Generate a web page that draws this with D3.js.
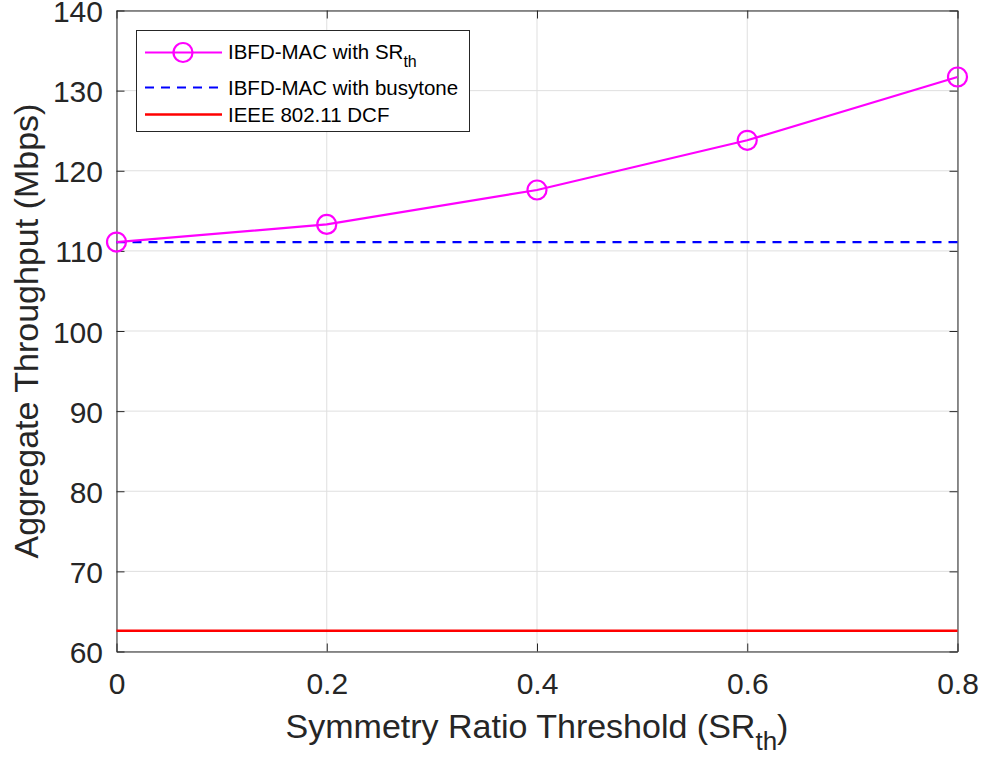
<!DOCTYPE html>
<html>
<head>
<meta charset="utf-8">
<script src="https://cdn.jsdelivr.net/npm/d3@7"></script>
<style>
  html, body { margin: 0; padding: 0; background: #fff; }
  svg { display: block; font-family: "Liberation Sans", Arial, Helvetica, sans-serif; }
</style>
</head>
<body>
<svg id="chart" width="984" height="761"></svg>
<script>
// Symmetry ratio thresholds on the x axis
const thresholds = [0, 0.2, 0.4, 0.6, 0.8];
// Aggregate throughput (Mbps) for each scheme
const srThThroughput = [111.1, 113.3, 117.6, 123.8, 131.7];
const busytoneThroughput = [111.1, 111.1, 111.1, 111.1, 111.1];
const dcfThroughput = [62.6, 62.6, 62.6, 62.6, 62.6];
// Tick values
const xTicks = [0, 0.2, 0.4, 0.6, 0.8];
const yTicks = [60, 70, 80, 90, 100, 110, 120, 130, 140];

const svg = d3.select("#chart");
const axisColor = "#262626";
const plotL = 116.5, plotR = 957.5, plotT = 10.5, plotB = 651.5;

const x = d3.scaleLinear().domain([0, 0.8]).range([plotL, plotR]);
const y = d3.scaleLinear().domain([60, 140]).range([plotB, plotT]);

// grid
const grid = svg.append("g").attr("stroke", "#dfdfdf").attr("stroke-width", 1);
xTicks.forEach(t => grid.append("line")
  .attr("x1", x(t)).attr("x2", x(t)).attr("y1", plotT).attr("y2", plotB));
yTicks.forEach(t => grid.append("line")
  .attr("x1", plotL).attr("x2", plotR).attr("y1", y(t)).attr("y2", y(t)));

// axes with inward ticks on all four sides
function styleAxis(g) {
  g.selectAll("path").attr("stroke", axisColor).attr("stroke-width", 1);
  g.selectAll("line").attr("stroke", axisColor).attr("stroke-width", 1);
  g.selectAll("text").attr("fill", axisColor)
    .style("font-family", '"Liberation Sans", Arial, Helvetica, sans-serif');
}
const fmt = d => String(+d.toFixed(1));

svg.append("g").attr("transform", `translate(0,${plotB})`)
  .call(d3.axisBottom(x).tickValues(xTicks).tickFormat(fmt).tickSizeInner(-8).tickSizeOuter(0).tickPadding(21.5))
  .call(g => { styleAxis(g); g.selectAll("text").attr("font-size", 30); });
svg.append("g").attr("transform", `translate(0,${plotT})`)
  .call(d3.axisTop(x).tickValues(xTicks).tickFormat("").tickSizeInner(-8).tickSizeOuter(0))
  .call(styleAxis);
svg.append("g").attr("transform", `translate(${plotL},0)`)
  .call(d3.axisLeft(y).tickValues(yTicks).tickSizeInner(-8).tickSizeOuter(0).tickPadding(13.5))
  .call(g => { styleAxis(g); g.selectAll("text").attr("font-size", 30).attr("dy", "0.37em"); });
svg.append("g").attr("transform", `translate(${plotR},0)`)
  .call(d3.axisRight(y).tickValues(yTicks).tickFormat("").tickSizeInner(-8).tickSizeOuter(0))
  .call(styleAxis);

// data lines
const pts = (vals) => thresholds.map((t, i) => [t, vals[i]]);
const line = d3.line().x(d => x(d[0])).y(d => y(d[1]));

svg.append("path").datum(pts(dcfThroughput)).attr("d", line)
  .attr("fill", "none").attr("stroke", "#ff0000").attr("stroke-width", 2.5);
svg.append("path").datum(pts(busytoneThroughput)).attr("d", line)
  .attr("fill", "none").attr("stroke", "#0000ff").attr("stroke-width", 2.2)
  .attr("stroke-dasharray", "9,7");
svg.append("path").datum(pts(srThThroughput)).attr("d", line)
  .attr("fill", "none").attr("stroke", "#ff00ff").attr("stroke-width", 2.2);
svg.append("g").selectAll("circle").data(pts(srThThroughput)).join("circle")
  .attr("cx", d => x(d[0])).attr("cy", d => y(d[1])).attr("r", 9.5)
  .attr("fill", "none").attr("stroke", "#ff00ff").attr("stroke-width", 2.2);

// axis titles
const xl = svg.append("text").attr("x", (plotL + plotR) / 2).attr("y", 738)
  .attr("text-anchor", "middle").attr("font-size", 34).attr("fill", axisColor);
xl.append("tspan").text("Symmetry Ratio Threshold (SR");
xl.append("tspan").attr("font-size", 26).attr("dy", 12).text("th");
xl.append("tspan").attr("dy", -12).text(")");

svg.append("text")
  .attr("transform", `translate(38,${(plotT + plotB) / 2}) rotate(-90)`)
  .attr("text-anchor", "middle").attr("font-size", 34).attr("fill", axisColor)
  .text("Aggregate Throughput (Mbps)");

// legend
const lg = svg.append("g");
lg.append("rect").attr("x", 136.5).attr("y", 30.5).attr("width", 333).attr("height", 101)
  .attr("fill", "#fff").attr("stroke", axisColor).attr("stroke-width", 1);
const rows = [
  { y: 52.5, color: "#ff00ff", dash: null, marker: true, label: "IBFD-MAC with SR", sub: "th" },
  { y: 87.5, color: "#0000ff", dash: "9,7", marker: false, label: "IBFD-MAC with busytone" },
  { y: 114.5, color: "#ff0000", dash: null, marker: false, label: "IEEE 802.11 DCF" }
];
rows.forEach(r => {
  lg.append("line").attr("x1", 145).attr("x2", 222).attr("y1", r.y).attr("y2", r.y)
    .attr("stroke", r.color).attr("stroke-width", r.color === "#ff0000" ? 2.5 : 2.2)
    .attr("stroke-dasharray", r.dash);
  if (r.marker) {
    lg.append("circle").attr("cx", 183).attr("cy", r.y).attr("r", 9.5)
      .attr("fill", "none").attr("stroke", r.color).attr("stroke-width", 2.2);
  }
  const t = lg.append("text").attr("x", 228).attr("y", r.sub ? 58.5 : r.y + 7)
    .attr("font-size", 20.5).attr("fill", "#000");
  t.append("tspan").text(r.label);
  if (r.sub) t.append("tspan").attr("font-size", 16).attr("dy", 8).text(r.sub);
});
</script>
</body>
</html>
